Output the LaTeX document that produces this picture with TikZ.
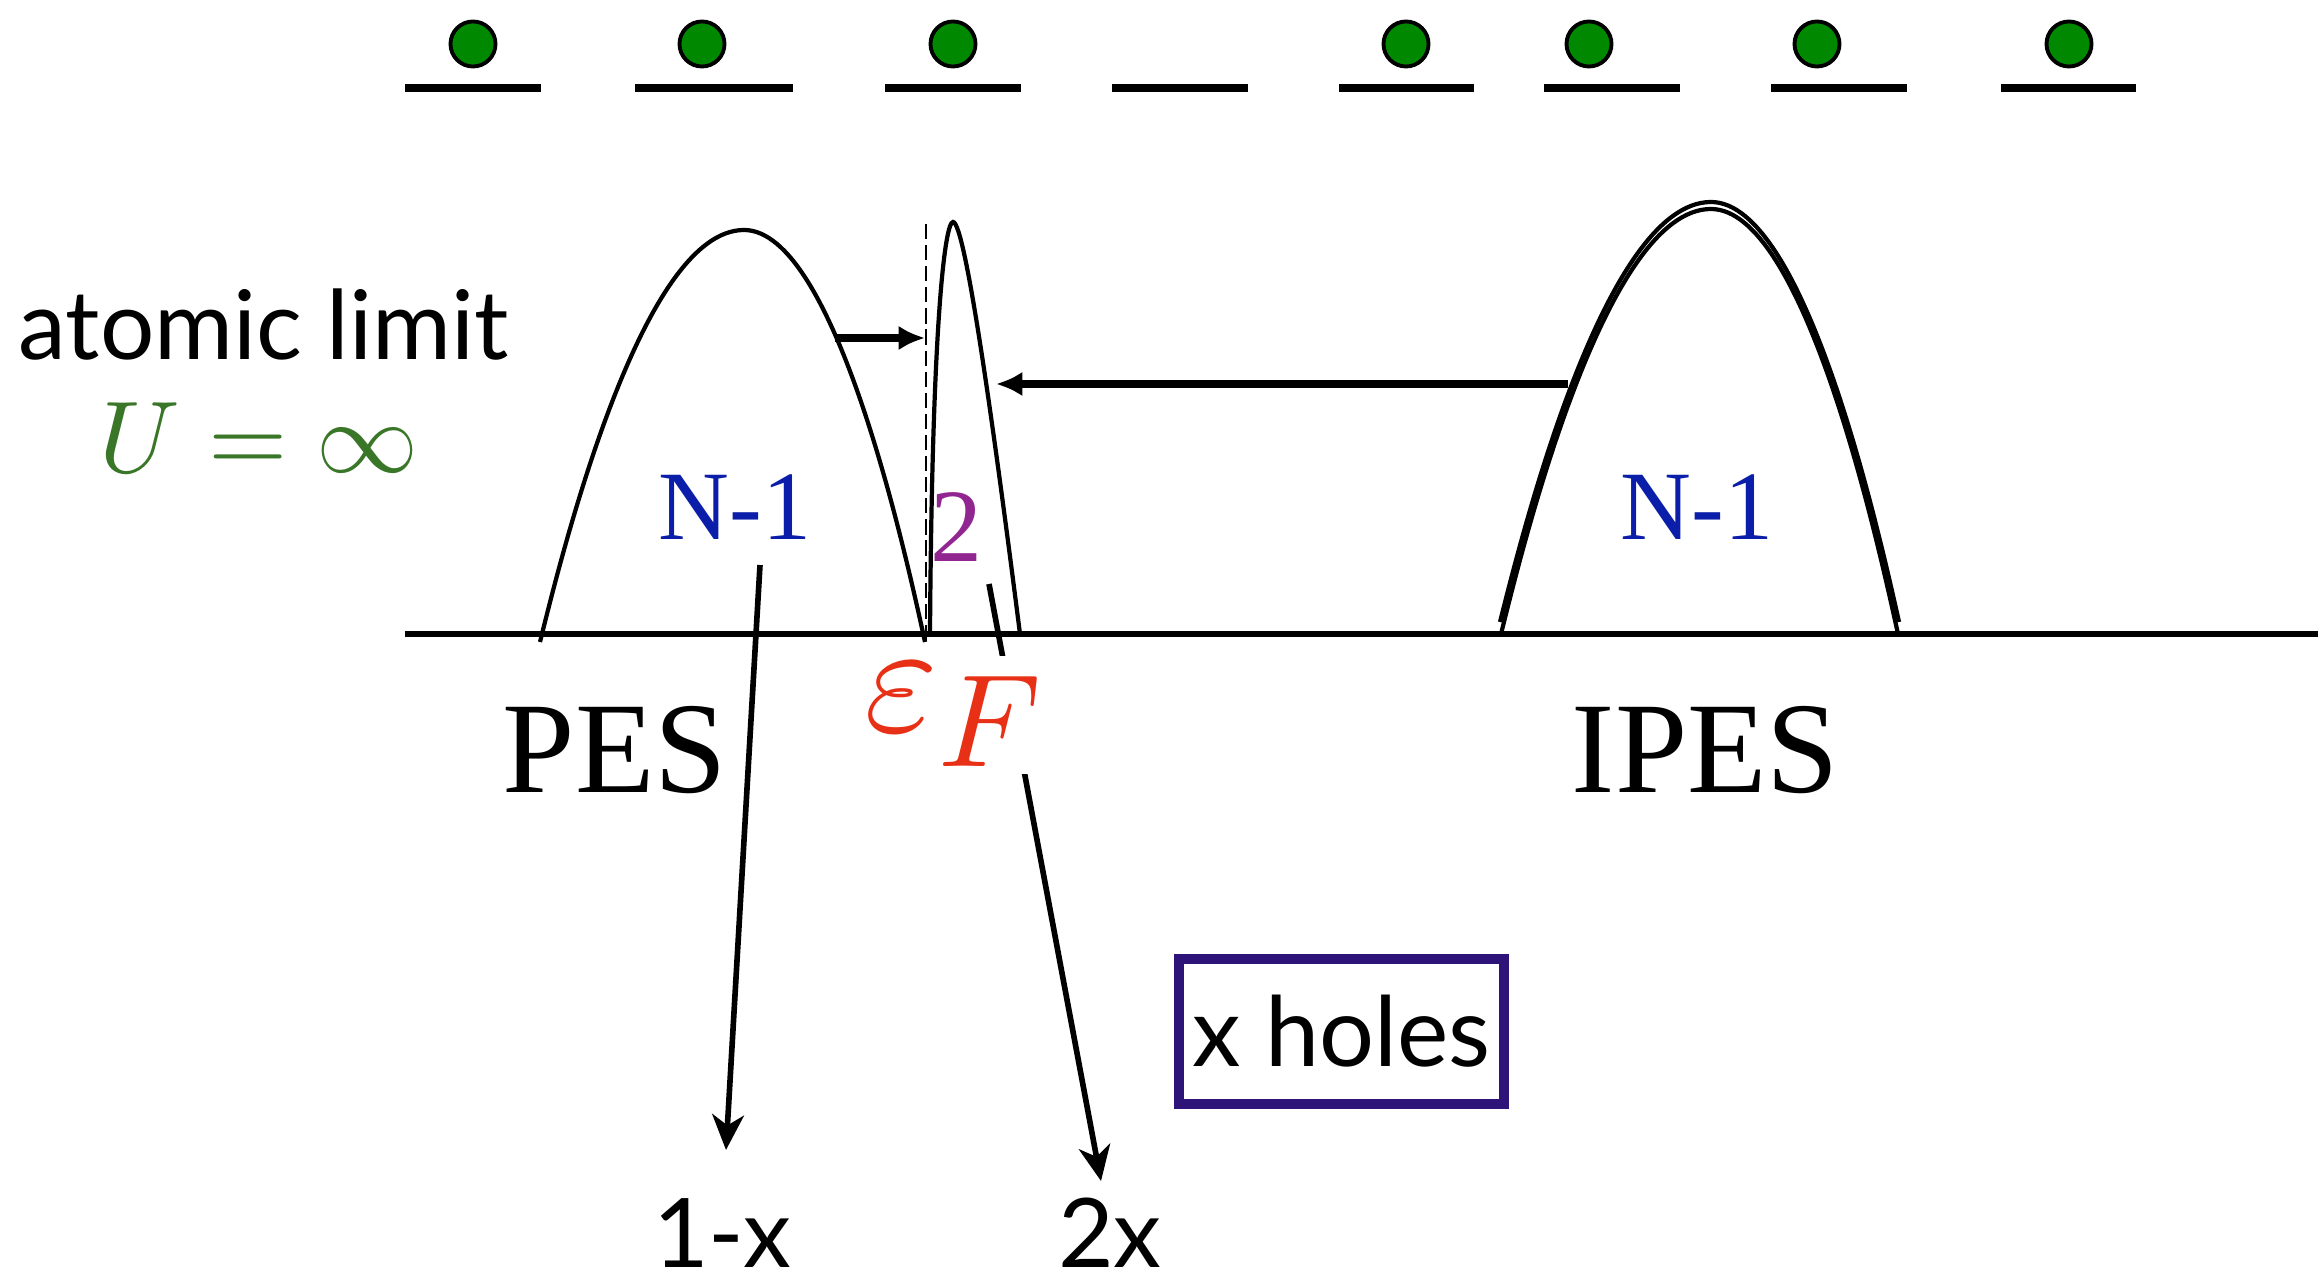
\documentclass[tikz,border=0pt]{standalone}
\usepackage[no-math]{fontspec}
\usepackage{graphicx}
\newfontfamily\gill{Lato}
\newfontfamily\tms{Liberation Serif}
\usetikzlibrary{arrows.meta}
\definecolor{dotgreen}{RGB}{0,136,0}
\definecolor{ugreen}{RGB}{58,118,40}
\definecolor{nblue}{RGB}{10,30,170}
\definecolor{twopurple}{RGB}{145,38,145}
\definecolor{efred}{RGB}{232,48,22}
\definecolor{boxpurple}{RGB}{46,20,120}
\begin{document}
\begin{tikzpicture}[x=0.01cm,y=-0.01cm,
  level/.style={line width=2.3pt},
  electron/.style={circle,draw=black,line width=1.1pt,fill=dotgreen,minimum size=0.45cm,inner sep=0pt},
  band/.style={line width=1.2pt},
  fermiline/.style={line width=0.6pt,dash pattern=on 4.3pt off 1.7pt},
  harrow/.style={line width=2pt,-{Latex[length=7.5pt,width=7pt]}},
  varrow/.style={line width=1.6pt,-{Stealth[length=10pt,width=9pt,inset=3pt]}},
  sanslabel/.style={font=\gill\fontsize{27.3pt}{30pt}\selectfont,inner sep=0pt},
  bandlabel/.style={font=\tms\fontsize{27.9pt}{30pt}\selectfont,text=nblue,inner sep=0pt},
  speclabel/.style={font=\tms\fontsize{37pt}{40pt}\selectfont,inner sep=0pt}
]
\useasboundingbox (0,0) rectangle (2324,1283);
% top row of sites
\foreach \a/\b in {405/541,635/793,885/1021,1112/1248,1339/1474,1544/1680,1771/1907,2001/2136}
  \draw[level] (\a,88) -- (\b,88);
\foreach \x [count=\i] in {473,702,953,1406,1589,1817,2069}
  \node[electron] (e\i) at (\x,44) {};
% axis
\draw[line width=1.7pt] (405,634) -- (2318,634);
% bands
\draw[band] (540,642) parabola bend (744,230) (925,642);
\draw[band] (930,634) .. controls (932,322) and (945,222) .. (953,222)
  .. controls (965,222) and (993,422) .. (1020,634);
\draw[band] (1500,622) parabola bend (1711,202) (1899,622);
\draw[band] (1501,634) parabola bend (1711,209) (1898,634);
\draw[fermiline] (926,224) -- (926,641);
% arrows
\coordinate (ra0) at (835,338); \coordinate (ra1) at (925,338);
\coordinate (la0) at (1568,384); \coordinate (la1) at (996,384);
\coordinate (da0) at (760,565); \coordinate (da1) at (726,1150);
\coordinate (db0) at (989,584); \coordinate (db1) at (1101,1181);
\draw[harrow] (ra0) -- (ra1);
\draw[harrow] (la0) -- (la1);
\draw[varrow] (da0) -- (da1);
\draw[varrow] (db0) -- (db1);
% labels
\node[sanslabel,anchor=base west] (atl) at (18,360) {atomic limit};
\node[anchor=base,text=ugreen,inner sep=0pt] (uinf) at (259,473) {\scalebox{2.9}{$U=\infty$}};
\node[bandlabel,anchor=base] (nl) at (735,540) {N-1};
\node[bandlabel,anchor=base] (nr) at (1697,540) {N-1};
\node[font=\tms\fontsize{29.6pt}{32pt}\selectfont,text=twopurple,anchor=base,inner sep=0pt] (two) at (957,562) {2};
\node[fill=white,text=efred,anchor=base west,inner sep=2.3pt] (ef) at (856,732)
  {\scalebox{4.5}{$\varepsilon$}\kern0pt\raisebox{-9.7pt}{\scalebox{3.75}{$F$}}};
\node[speclabel,anchor=base west] (pes) at (502,793) {PES};
\node[speclabel,anchor=base west] (ipes) at (1571,793) {IPES};
\node[sanslabel,anchor=base] (onex) at (722,1267) {1-x};
\node[sanslabel,anchor=base] (twox) at (1110,1267) {2x};
\node[draw=boxpurple,line width=2.85pt,minimum width=3.25cm,minimum height=1.45cm,
  inner sep=0pt,font=\gill\fontsize{27.6pt}{30pt}\selectfont] (holes) at (1341.5,1031.5) {x holes};
\end{tikzpicture}
\end{document}
